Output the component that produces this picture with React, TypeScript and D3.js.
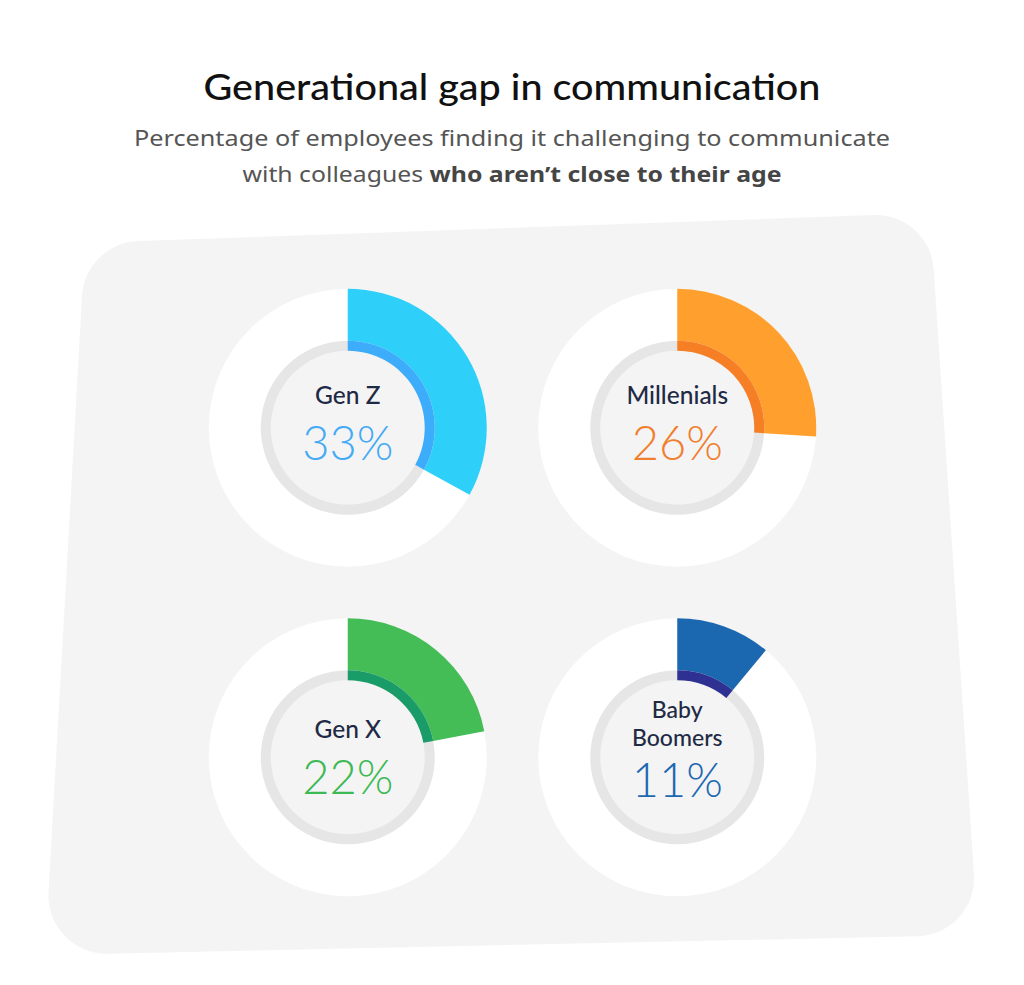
import * as d3 from "d3";
import React from "react";

// chart data
const generations = ["Gen Z", "Millenials", "Gen X", "Baby Boomers"];
const shares = [33, 26, 22, 11];
const outerColors = ["#2ecff8", "#ff9f2e", "#45bd56", "#1c68b0"];
const innerColors = ["#3cacfb", "#f67f25", "#199c68", "#2e3192"];
const valueColors = ["#43aaf3", "#f07e2c", "#3cb954", "#1c68b0"];

const W = 1024;
const H = 985;

// background card corners (skewed rounded quad)
const cardCorners: [number, number][] = [
  [85, 243],
  [930, 213],
  [978, 935],
  [45, 955],
];

const cardPath = () => {
  const p = d3.path();
  const r = 58;
  const n = cardCorners.length;
  const mid = (a: [number, number], b: [number, number]) => [(a[0] + b[0]) / 2, (a[1] + b[1]) / 2];
  const start = mid(cardCorners[n - 1], cardCorners[0]);
  p.moveTo(start[0], start[1]);
  for (let i = 0; i < n; i++) {
    const c = cardCorners[i];
    const next = cardCorners[(i + 1) % n];
    const m = mid(c, next);
    p.arcTo(c[0], c[1], m[0], m[1], r);
  }
  p.closePath();
  return p.toString();
};

const App = () => {
  const col = d3.scaleBand<number>().domain([0, 1]).range([183, 842]);
  const row = d3.scaleBand<number>().domain([0, 1]).range([263, 922]);
  const angle = d3.scaleLinear().domain([0, 100]).range([0, 2 * Math.PI]);

  const rOuter = 139;
  const rRing = 87;
  const rInner = 77;

  const outerArc = d3.arc<number>()
    .innerRadius(rRing)
    .outerRadius(rOuter)
    .startAngle(0)
    .endAngle((d) => angle(d));
  const bandArc = d3.arc<number>()
    .innerRadius(rInner)
    .outerRadius(rRing)
    .startAngle(0)
    .endAngle((d) => angle(d));

  const labelFont = "Lato, 'Noto Sans', sans-serif";
  const headFont = "'Noto Sans', Lato, sans-serif";

  return (
    <div style={{ position: "absolute", left: 0, top: 0 }}>
      <svg width={W} height={H} style={{ display: "block", background: "#ffffff" }}>
        <text x={512} y={100} textAnchor="middle" fontFamily={labelFont} fontSize={37} fontWeight={500} fill="#111111"
          textLength={617} lengthAdjust="spacingAndGlyphs">
          Generational gap in communication
        </text>
        <text x={512} y={146} textAnchor="middle" fontFamily={headFont} fontSize={22} fill="#555555"
          textLength={756} lengthAdjust="spacingAndGlyphs">
          Percentage of employees finding it challenging to communicate
        </text>
        <text x={512} y={182} textAnchor="middle" fontFamily={headFont} fontSize={22} fill="#555555"
          textLength={539} lengthAdjust="spacingAndGlyphs">
          with colleagues <tspan fontWeight={700} fill="#454545">who aren’t close to their age</tspan>
        </text>

        <path d={cardPath()} fill="#f4f4f4" />

        {generations.map((g, i) => {
          const cx = col(i % 2)! + col.bandwidth() / 2;
          const r = Math.floor(i / 2);
          const cy = row(r)! + row.bandwidth() / 2;
          const words = g.split(" ");
          const twoLine = g === "Baby Boomers";
          const shift = r === 1 ? 5 : 0;
          return (
            <g key={g} transform={`translate(${cx},${cy})`}>
              <circle r={rOuter} fill="#ffffff" />
              <circle r={(rRing + rInner) / 2} fill="#f4f4f5" stroke="#e6e6e6" strokeWidth={rRing - rInner} />
              <path d={outerArc(shares[i]) || ""} fill={outerColors[i]} />
              <path d={bandArc(shares[i]) || ""} fill={innerColors[i]} />
              {twoLine ? (
                <>
                  <text y={-39} textAnchor="middle" fontFamily={labelFont} fontSize={23} fontWeight={500} fill="#1f2a44">
                    {words[0]}
                  </text>
                  <text y={-11} textAnchor="middle" fontFamily={labelFont} fontSize={23} fontWeight={500} fill="#1f2a44">
                    {words[1]}
                  </text>
                  <text y={40} textAnchor="middle" fontFamily={labelFont} fontSize={47} fontWeight={300} fill={valueColors[i]}>
                    {shares[i]}%
                  </text>
                </>
              ) : (
                <>
                  <text y={-24 + shift} textAnchor="middle" fontFamily={labelFont} fontSize={24.5} fontWeight={500} fill="#1f2a44">
                    {g}
                  </text>
                  <text y={32 + shift} textAnchor="middle" fontFamily={labelFont} fontSize={47} fontWeight={300} fill={valueColors[i]}>
                    {shares[i]}%
                  </text>
                </>
              )}
            </g>
          );
        })}
      </svg>
    </div>
  );
};

export default App;
